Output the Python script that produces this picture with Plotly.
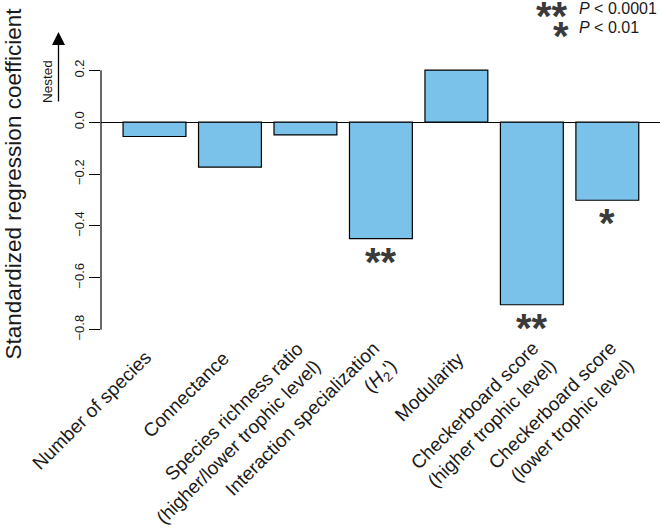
import plotly.graph_objects as go

# ---------------- data ----------------
categories = [
    "Number of species",
    "Connectance",
    "Species richness ratio<br>(higher/lower trophic level)",
    "Interaction specialization<br>(<i>H</i><sub>2</sub>')",
    "Modularity",
    "Checkerboard score<br>(higher trophic level)",
    "Checkerboard score<br>(lower trophic level)",
]
coefficients = [-0.055, -0.173, -0.049, -0.449, 0.201, -0.704, -0.301]
significance = ["", "", "", "**", "", "**", "*"]
y_ticks = [-0.8, -0.6, -0.4, -0.2, 0.0, 0.2]
y_title = "Standardized regression coefficient"
legend_stars = ["**", "*"]
legend_text = ["<i>P</i> < 0.0001", "<i>P</i> < 0.01"]
direction_label = "Nested"

# ---------------- layout geometry ----------------
FIG_W, FIG_H = 660, 530
ML, MR, MT, MB = 101, 0, 60, 190
PW = FIG_W - ML - MR
PH = FIG_H - MT - MB
FONT = "Arial, Liberation Sans, Helvetica, sans-serif"
BAR_COLOR = "#7BC2EB"
STAR_COLOR = "#3a3a3a"
TXT = "#1a1a1a"


def px_to_paper_x(px):
    return (px - ML) / PW


def px_to_paper_y(py):
    return (FIG_H - MB - py) / PH


x_pos = list(range(len(categories)))

fig = go.Figure()
fig.add_trace(
    go.Bar(
        x=x_pos,
        y=coefficients,
        marker=dict(color=BAR_COLOR, line=dict(color="black", width=1.2)),
        width=0.833,
        hoverinfo="skip",
    )
)

fig.update_layout(
    width=FIG_W,
    height=FIG_H,
    margin=dict(l=ML, r=MR, t=MT, b=MB, pad=0),
    paper_bgcolor="white",
    plot_bgcolor="white",
    showlegend=False,
    font=dict(family=FONT, color=TXT),
    xaxis=dict(
        range=[-0.709, len(categories) - 1 + 0.698],
        showticklabels=False,
        ticks="",
        showline=False,
        showgrid=False,
        zeroline=False,
    ),
    yaxis=dict(
        range=[-0.84, 0.24],
        tickvals=y_ticks,
        tickformat=".1f",
        ticks="outside",
        ticklen=11,
        tickwidth=1.2,
        tickcolor="black",
        tickangle=-90,
        tickfont=dict(size=13, family=FONT, color=TXT),
        showline=False,
        showgrid=False,
        zeroline=True,
        zerolinecolor="black",
        zerolinewidth=1.3,
    ),
)

# y axis line spanning only the tick range (R style)
fig.add_shape(
    type="line", xref="paper", yref="y",
    x0=0, x1=0, y0=min(y_ticks), y1=max(y_ticks),
    line=dict(color="black", width=1.2),
)

# category labels, rotated 45 degrees and right-aligned
LAB_SIZE = 19
for i, lab in enumerate(categories):
    nlines = lab.count("<br>") + 1
    box_h = LAB_SIZE * 1.15 + (nlines - 1) * LAB_SIZE * 1.3 + 2
    extra_x = -4 if nlines > 1 else 0
    extra_y = 10 if nlines > 1 else 0
    fig.add_annotation(
        x=i, xref="x", y=px_to_paper_y(344.8), yref="paper",
        text=lab, textangle=-45, xanchor="right", yanchor="top",
        align="right", showarrow=False,
        xshift=-5.2 + 0.707 * box_h + 2.8 * (i - 3) + extra_x,
        yshift=extra_y,
        font=dict(size=LAB_SIZE, family=FONT, color=TXT),
    )

# significance stars under bars
for i, s in enumerate(significance):
    if s:
        fig.add_annotation(
            x=i, y=coefficients[i], xref="x", yref="y",
            text="<b>%s</b>" % s, showarrow=False,
            xanchor="center", yanchor="middle", yshift=-23,
            font=dict(size=40, family=FONT, color=STAR_COLOR),
        )

# legend for stars (top right)
star_centers = [552, 561]
for k, (st, tx) in enumerate(zip(legend_stars, legend_text)):
    fig.add_annotation(
        x=px_to_paper_x(star_centers[k]), xref="paper",
        y=px_to_paper_y(16 + 20 * k), yref="paper",
        text="<b>%s</b>" % st, showarrow=False, xanchor="center", yanchor="middle",
        font=dict(size=40, family=FONT, color=STAR_COLOR),
    )
    fig.add_annotation(
        x=px_to_paper_x(577), xref="paper", y=px_to_paper_y(8 + 20 * k), yref="paper",
        text=tx, showarrow=False, xanchor="left", yanchor="middle",
        font=dict(size=16, family=FONT, color=TXT),
    )

# y axis title
fig.add_annotation(
    x=px_to_paper_x(12.5), xref="paper", y=px_to_paper_y(184), yref="paper",
    text=y_title, textangle=-90, showarrow=False,
    xanchor="center", yanchor="middle",
    font=dict(size=22.5, family=FONT, color=TXT),
)

# "Nested" direction label and arrow
fig.add_annotation(
    x=px_to_paper_x(47), xref="paper", y=px_to_paper_y(82), yref="paper",
    text=direction_label, textangle=-90, showarrow=False,
    xanchor="center", yanchor="middle",
    font=dict(size=13.5, family=FONT, color=TXT),
)
fig.add_annotation(
    x=px_to_paper_x(58.5), xref="paper", y=px_to_paper_y(32), yref="paper",
    text="", showarrow=True, ax=0, ay=71,
    arrowhead=2, arrowsize=2, arrowwidth=1.3, arrowcolor="black", standoff=0,
)

fig.write_html(
    "out.html",
    config={"displayModeBar": False},
    post_script="document.body.style.margin='0px';",
)
